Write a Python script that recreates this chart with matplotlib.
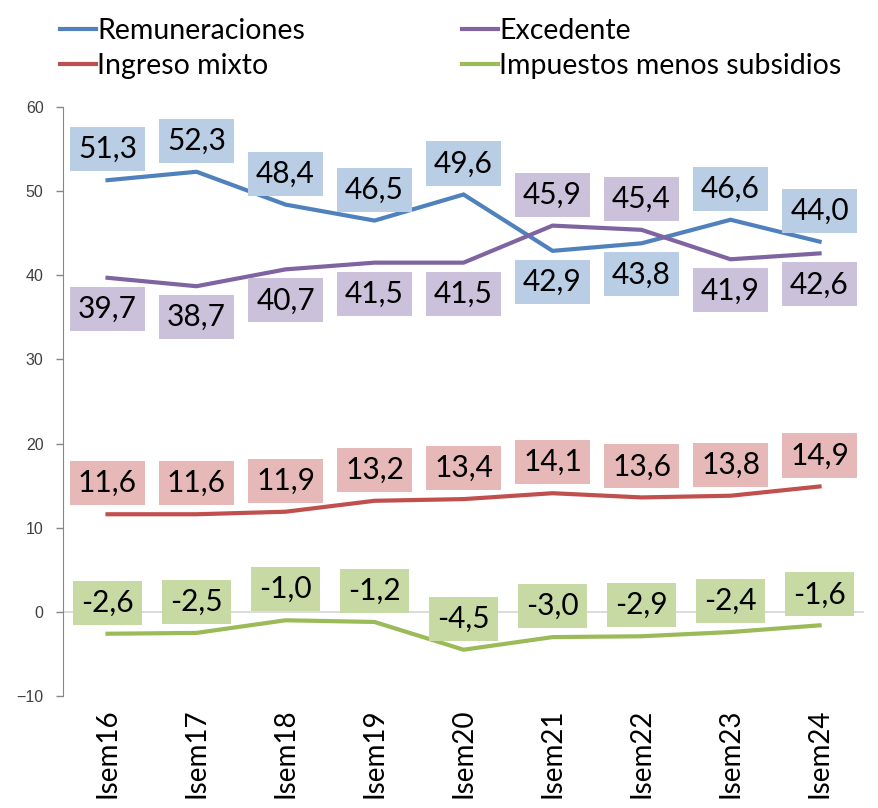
import matplotlib
matplotlib.use("Agg")
import matplotlib.pyplot as plt

# datos
categorias = ["Isem16", "Isem17", "Isem18", "Isem19", "Isem20",
              "Isem21", "Isem22", "Isem23", "Isem24"]
remuneraciones = [51.3, 52.3, 48.4, 46.5, 49.6, 42.9, 43.8, 46.6, 44.0]
excedente = [39.7, 38.7, 40.7, 41.5, 41.5, 45.9, 45.4, 41.9, 42.6]
ingreso_mixto = [11.6, 11.6, 11.9, 13.2, 13.4, 14.1, 13.6, 13.8, 14.9]
impuestos = [-2.6, -2.5, -1.0, -1.2, -4.5, -3.0, -2.9, -2.4, -1.6]

# posicion de la etiqueta: +1 arriba, -1 abajo
pos_rem = [1, 1, 1, 1, 1, -1, -1, 1, 1]
pos_exc = [-1, -1, -1, -1, -1, 1, 1, -1, -1]
pos_ing = [1] * 9
pos_imp = [1] * 9

FONT = "Lato"
plt.rcParams["font.family"] = [FONT, "DejaVu Sans"]

fig = plt.figure(figsize=(8.79, 8.08), dpi=100)
ax = fig.add_axes([0.0717, 0.1386, 0.9113, 0.729])

series = [
    ("Remuneraciones", remuneraciones, pos_rem, "#4F81BD", "#B9CDE5"),
    ("Ingreso mixto", ingreso_mixto, pos_ing, "#C0504D", "#E6B9B8"),
    ("Excedente", excedente, pos_exc, "#8064A2", "#CCC1DA"),
    ("Impuestos menos subsidios", impuestos, pos_imp, "#9BBB59", "#C8DAA3"),
]

xs = list(range(len(categorias)))
handles = []
for nombre, vals, pos, color, fondo in series:
    ln, = ax.plot(xs, vals, color=color, lw=3, label=nombre, zorder=3,
                  solid_joinstyle="miter")
    handles.append(ln)
    for x, v, p in zip(xs, vals, pos):
        ax.annotate(f"{v:.1f}".replace(".", ","), (x, v),
                    xytext=(0, 31 * p), textcoords="offset pixels",
                    ha="center", va="center", fontsize=21.5, color="black",
                    zorder=4,
                    bbox=dict(boxstyle="square,pad=0.27", fc=fondo, ec="none"))

ax.axhline(0, color="#D9D9D9", lw=1.3, zorder=1)
ax.set_xlim(-0.5, 8.5)
ax.set_ylim(-10, 60)
ax.set_yticks(range(-10, 61, 10))
ax.tick_params(axis="y", direction="out", length=5, width=1, color="#868686",
               labelsize=11.5, labelcolor="#404040", pad=9)
for lbl in ax.get_yticklabels():
    lbl.set_family(["Liberation Sans", "DejaVu Sans"])
ax.set_xticks(xs)
ax.set_xticklabels(categorias, rotation=90, fontsize=20)
ax.tick_params(axis="x", length=0, pad=9)
for s in ["top", "right", "bottom"]:
    ax.spines[s].set_visible(False)
ax.spines["left"].set_color("#868686")

fig.legend(handles=handles, labels=[h.get_label() for h in handles],
           loc="upper left", bbox_to_anchor=(0.039, 1.01), ncol=2,
           frameon=False, fontsize=20.5, handlelength=1.26, handletextpad=0.05,
           columnspacing=5.5, labelspacing=0.34)

fig.savefig("out.png", dpi=100)
